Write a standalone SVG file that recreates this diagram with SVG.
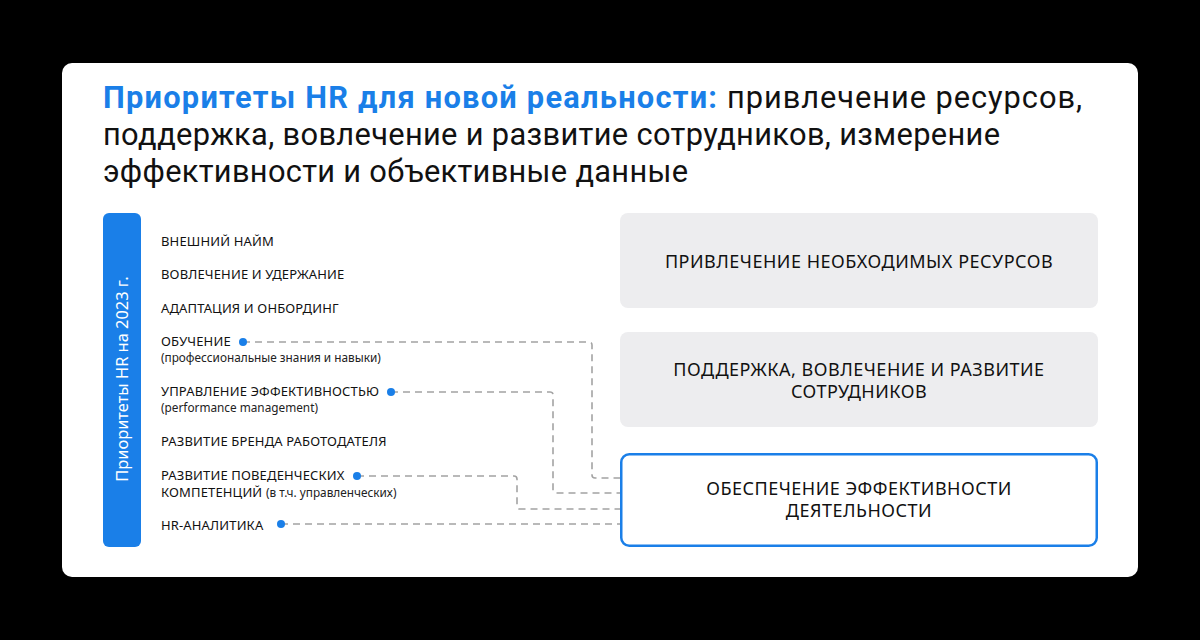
<svg xmlns="http://www.w3.org/2000/svg" width="1200" height="640" viewBox="0 0 1200 640">
<style>
text{font-family:"Noto Sans","Open Sans","DejaVu Sans",sans-serif}
.t{font-family:Roboto,"Noto Sans",sans-serif;font-size:30.8px;fill:#111}
.tb{font-weight:700;fill:#1a7fe8}
.li{font-size:13px;fill:#111;letter-spacing:0.15px}
.sub{font-size:11.8px;fill:#222;letter-spacing:0}
.bx{font-size:18px;fill:#111;text-anchor:middle;letter-spacing:0.5px}
.dash{fill:none;stroke:#a3a3a3;stroke-width:1.6;stroke-dasharray:7 5}
.dot{fill:#1a7fe8}
</style>
<rect width="1200" height="640" fill="#000"/>
<rect x="62" y="63" width="1076" height="514" rx="10" fill="#fff"/>
<g id="title">
<text class="t tb" x="103" y="108" textLength="614" lengthAdjust="spacing">Приоритеты HR для новой реальности:</text>
<text class="t" x="727" y="108" textLength="355" lengthAdjust="spacing">привлечение ресурсов,</text>
<text class="t" x="103" y="145" textLength="897" lengthAdjust="spacing">поддержка, вовлечение и развитие сотрудников, измерение</text>
<text class="t" x="103" y="182" textLength="585" lengthAdjust="spacing">эффективности и объективные данные</text>
</g>
<g id="bar">
<rect x="103" y="213" width="38" height="334" rx="6" fill="#1a7fe8"/>
<text transform="translate(128,379) rotate(-90)" text-anchor="middle" font-size="16.4" fill="#fff">Приоритеты HR на 2023 г.</text>
</g>
<g id="list">
<text class="li" x="161" y="246">ВНЕШНИЙ НАЙМ</text>
<text class="li" x="161" y="279">ВОВЛЕЧЕНИЕ И УДЕРЖАНИЕ</text>
<text class="li" x="161" y="313">АДАПТАЦИЯ И ОНБОРДИНГ</text>
<text class="li" x="161" y="346">ОБУЧЕНИЕ</text>
<text class="sub" x="161" y="362">(профессиональные знания и навыки)</text>
<text class="li" x="161" y="396">УПРАВЛЕНИЕ ЭФФЕКТИВНОСТЬЮ</text>
<text class="sub" x="161" y="412">(performance management)</text>
<text class="li" x="161" y="446">РАЗВИТИЕ БРЕНДА РАБОТОДАТЕЛЯ</text>
<text class="li" x="161" y="480">РАЗВИТИЕ ПОВЕДЕНЧЕСКИХ</text>
<text class="li" x="161" y="497">КОМПЕТЕНЦИЙ <tspan class="sub">(в т.ч. управленческих)</tspan></text>
<text class="li" x="161" y="530">HR-АНАЛИТИКА</text>
</g>
<g id="connectors">
<path class="dash" d="M243 342 H589 Q592 342 592 345 V475 Q592 478 595 478 H620"/>
<path class="dash" d="M391 392 H550 Q553 392 553 395 V490 Q553 493 556 493 H620"/>
<path class="dash" d="M357 476 H514 Q517 476 517 479 V506 Q517 509 520 509 H620"/>
<path class="dash" d="M281 524 H620"/>
<circle class="dot" cx="243" cy="342" r="4"/>
<circle class="dot" cx="391" cy="392" r="4"/>
<circle class="dot" cx="357" cy="476" r="4"/>
<circle class="dot" cx="281" cy="524" r="4"/>
</g>
<g id="box1">
<rect x="620" y="213" width="478" height="95" rx="8" fill="#ededef"/>
<text class="bx" x="859" y="268">ПРИВЛЕЧЕНИЕ НЕОБХОДИМЫХ РЕСУРСОВ</text>
</g>
<g id="box2">
<rect x="620" y="332" width="478" height="95" rx="8" fill="#ededef"/>
<text class="bx" x="859" y="376">ПОДДЕРЖКА, ВОВЛЕЧЕНИЕ И РАЗВИТИЕ</text>
<text class="bx" x="859" y="398">СОТРУДНИКОВ</text>
</g>
<g id="box3">
<rect x="621.25" y="454.25" width="475.5" height="91.5" rx="8" fill="#fff" stroke="#1a7fe8" stroke-width="2.5"/>
<text class="bx" x="859" y="495">ОБЕСПЕЧЕНИЕ ЭФФЕКТИВНОСТИ</text>
<text class="bx" x="859" y="517">ДЕЯТЕЛЬНОСТИ</text>
</g>
</svg>
